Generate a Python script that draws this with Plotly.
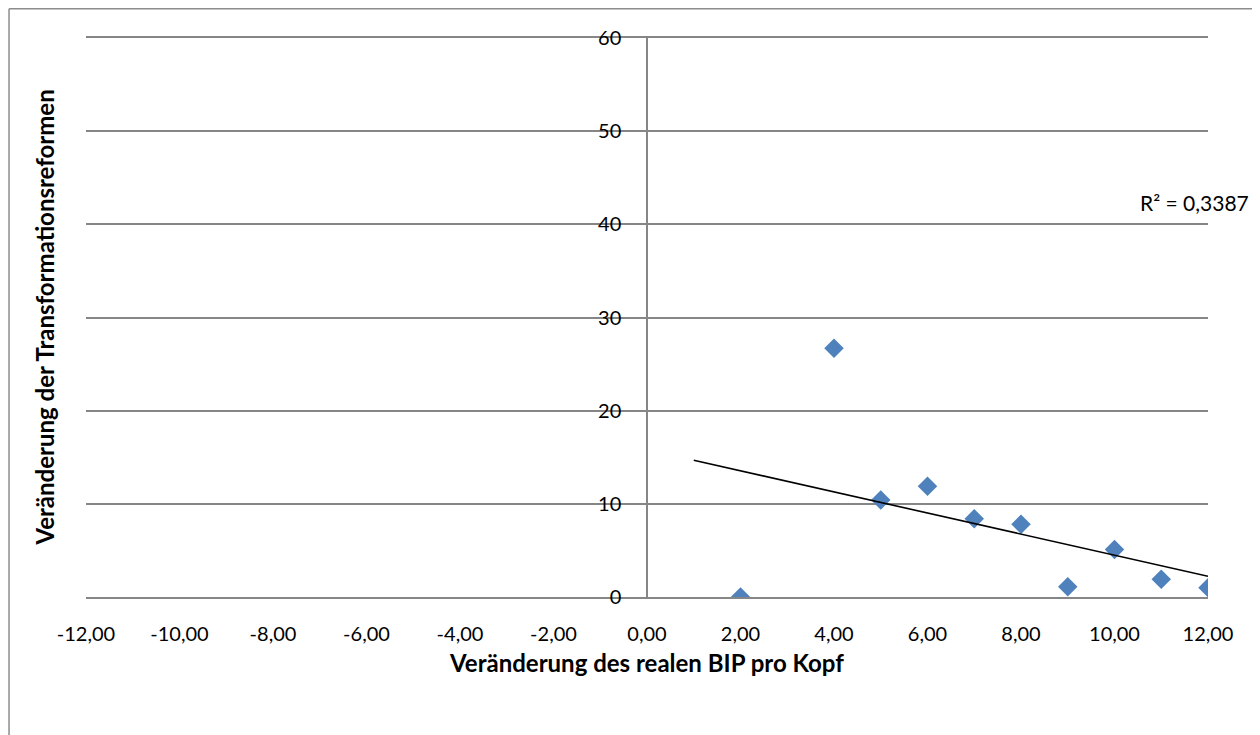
import numpy as np
import plotly.graph_objects as go

# reform vs. GDP change
bip_change = [2, 4, 5, 6, 7, 8, 9, 10, 11, 12]
reform_change = [0.0, 26.7, 10.4, 11.9, 8.4, 7.8, 1.1, 5.1, 1.9, 1.0]

x_ticks = [-12, -10, -8, -6, -4, -2, 0, 2, 4, 6, 8, 10, 12]
x_tick_text = [f"{v:.2f}".replace(".", ",") for v in x_ticks]
y_ticks = [0, 10, 20, 30, 40, 50, 60]
r2_label = "R² = 0,3387"

MARKER = "#4F81BD"
GRID = "#868686"
FONT = "Lato, 'Open Sans', sans-serif"

# linear trendline, forecast back to x=1
slope, intercept = np.polyfit(bip_change, reform_change, 1)
trend_x = np.array([1, max(bip_change)])
trend_y = slope * trend_x + intercept

fig = go.Figure()
fig.add_trace(go.Scatter(
    x=bip_change, y=reform_change,
    mode="markers",
    marker=dict(symbol="diamond", size=15, color=MARKER, line=dict(width=0)),
    showlegend=False,
))
fig.add_trace(go.Scatter(
    x=trend_x, y=trend_y,
    mode="lines",
    line=dict(color="black", width=1.6),
    showlegend=False,
))

fig.add_annotation(
    x=10.5, y=42.3, xref="x", yref="y",
    text=r2_label, showarrow=False, xanchor="left",
    font=dict(size=21, color="black", family=FONT),
)

# outer chart border (left and top edges)
fig.add_shape(type="line", xref="paper", yref="paper",
              x0=-0.0686, x1=-0.0686, y0=-0.3, y1=1.0523,
              line=dict(color="#8C8C8C", width=1.5))
fig.add_shape(type="line", xref="paper", yref="paper",
              x0=-0.0686, x1=1.1, y0=1.0523, y1=1.0523,
              line=dict(color="#8C8C8C", width=1.5))

# page body has an 8px margin, so the figure is a bit smaller than the window
fig.update_layout(
    width=1252, height=727,
    paper_bgcolor="white", plot_bgcolor="white",
    margin=dict(l=78, r=52, t=30, b=138),
    font=dict(family=FONT, size=20, color="black"),
    xaxis=dict(
        range=[-12, 12],
        tickvals=x_ticks, ticktext=x_tick_text,
        showgrid=False, zeroline=False,
        showline=True, mirror=True, linecolor=GRID, linewidth=1.5,
        ticks="",
        ticklabelstandoff=18,
        title=dict(text="<b>Veränderung des realen BIP pro Kopf</b>",
                   font=dict(size=24), standoff=11),
    ),
    yaxis=dict(
        range=[0, 60],
        tickvals=y_ticks,
        anchor="free", position=0.5,
        showgrid=True, gridcolor=GRID, gridwidth=1.5,
        zeroline=False,
        showline=True, linecolor=GRID, linewidth=1.5,
        ticks="", ticklabelstandoff=21,
    ),
)

fig.add_annotation(
    x=-0.0374, y=0.5, xref="paper", yref="paper",
    xanchor="center", yanchor="middle",
    text="<b>Veränderung der Transformationsreformen</b>",
    textangle=-90, showarrow=False,
    font=dict(size=24, color="black", family=FONT),
)

fig.write_html("out.html")
